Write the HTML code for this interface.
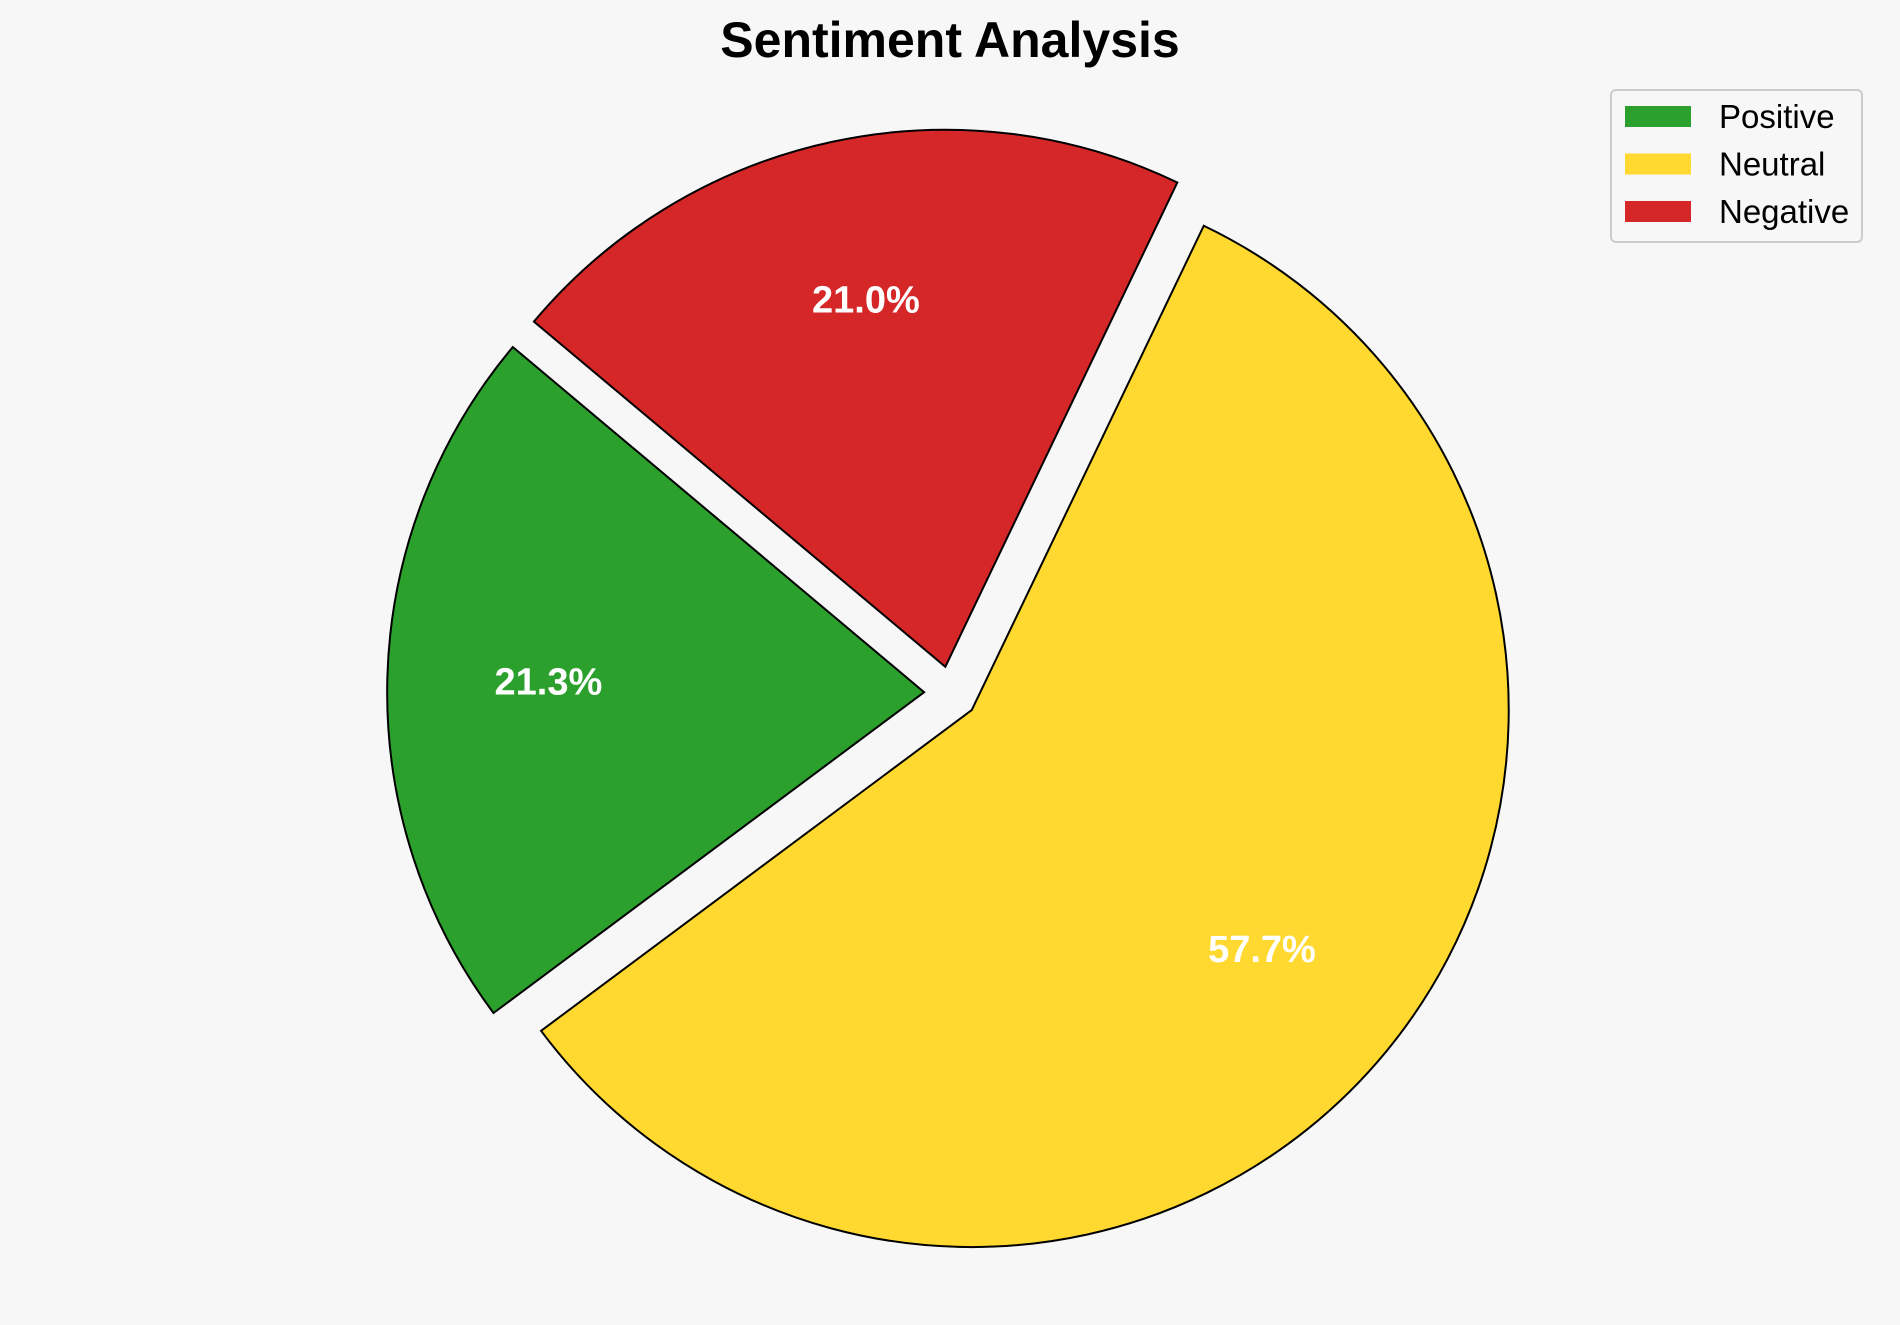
<!DOCTYPE html>
<html><head><meta charset="utf-8"><style>
html,body{margin:0;padding:0;background:#f7f7f7;}
svg{display:block;font-family:"Liberation Sans",sans-serif;}
</style></head><body>
<svg id="chart" width="1900" height="1325" viewBox="0 0 1900 1325">
<rect width="1900" height="1325" fill="#f7f7f7"/>
<text x="950" y="57" text-anchor="middle" font-size="50" font-weight="bold" fill="#000">Sentiment Analysis</text>
<g id="slices"></g>
<g id="legend">
<rect x="1611" y="90" width="251" height="152" rx="5" fill="#f7f7f7" stroke="#ccc" stroke-width="2"/>
</g>
</svg>
<script>
const categories = ["Positive", "Neutral", "Negative"];
const values = [21.3, 57.7, 21.0];
const colors = ["#2ca02c", "#ffd92f", "#d62728"];
const startAngle = 140;
const cx = 951, cy = 693, R = 537, explode = 0.05, pctDist = 0.7;
const ns = "http://www.w3.org/2000/svg";
const gS = document.getElementById("slices");
const gL = document.getElementById("legend");
const total = values.reduce((a, b) => a + b, 0);
let a0 = startAngle;
values.forEach((v, i) => {
  const span = v / total * 360;
  const a1 = a0 + span, mid = (a0 + a1) / 2 * Math.PI / 180;
  const ox = cx + explode * R * Math.cos(mid), oy = cy - explode * R * Math.sin(mid);
  const r0 = a0 * Math.PI / 180, r1 = a1 * Math.PI / 180;
  const x0 = ox + R * Math.cos(r0), y0 = oy - R * Math.sin(r0);
  const x1 = ox + R * Math.cos(r1), y1 = oy - R * Math.sin(r1);
  const p = document.createElementNS(ns, "path");
  p.setAttribute("d", `M${ox},${oy} L${x0},${y0} A${R},${R} 0 ${span > 180 ? 1 : 0} 0 ${x1},${y1} Z`);
  p.setAttribute("fill", colors[i]);
  p.setAttribute("stroke", "#000");
  p.setAttribute("stroke-width", "2");
  
  
  gS.appendChild(p);
  const t = document.createElementNS(ns, "text");
  t.setAttribute("x", ox + pctDist * R * Math.cos(mid));
  t.setAttribute("y", oy - pctDist * R * Math.sin(mid) + 13);
  t.setAttribute("text-anchor", "middle");
  t.setAttribute("font-size", "38");
  t.setAttribute("font-weight", "bold");
  t.setAttribute("fill", "#fff");
  t.textContent = v.toFixed(1) + "%";
  
  
  gS.appendChild(t);
  const ly = 116 + i * 47.5;
  const r = document.createElementNS(ns, "rect");
  r.setAttribute("x", 1625); r.setAttribute("y", ly - 10);
  r.setAttribute("width", 66); r.setAttribute("height", 21);
  r.setAttribute("fill", colors[i]);
  
  
  gL.appendChild(r);
  const lt = document.createElementNS(ns, "text");
  lt.setAttribute("x", 1719); lt.setAttribute("y", ly + 12);
  lt.setAttribute("font-size", "33"); lt.setAttribute("fill", "#000");
  lt.textContent = categories[i];
  
  
  gL.appendChild(lt);
  a0 = a1;
});
</script>
</body></html>
